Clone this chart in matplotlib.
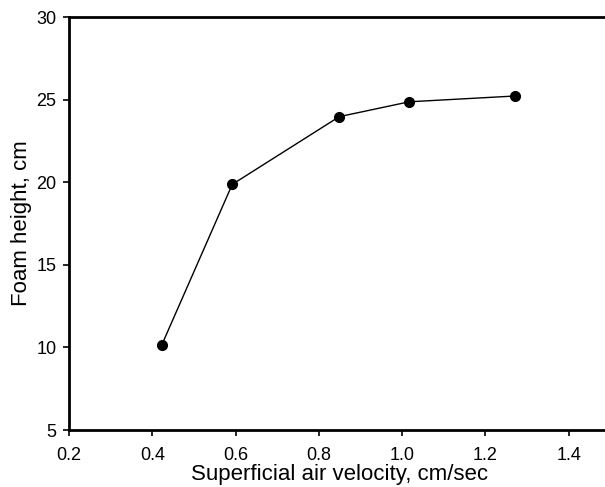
import matplotlib
matplotlib.use("Agg")
import matplotlib.pyplot as plt

# Foam height versus superficial air velocity
air_velocity = [0.423, 0.592, 0.849, 1.017, 1.271]   # cm/sec
foam_height = [10.16, 19.87, 23.97, 24.87, 25.22]    # cm

x_ticks = [0.2, 0.4, 0.6, 0.8, 1.0, 1.2, 1.4]
y_ticks = [5, 10, 15, 20, 25, 30]

plt.rcParams['font.family'] = ['Liberation Sans', 'DejaVu Sans']

fig = plt.figure(figsize=(6.05, 4.87), dpi=100)
ax = fig.add_axes([0.114, 0.117, 0.895, 0.848])

ax.plot(air_velocity, foam_height, color='black', linewidth=1.0,
        marker='o', markersize=7, markerfacecolor='black',
        markeredgecolor='black')

ax.set_xlim(0.2, 1.5)
ax.set_ylim(5, 30)
ax.set_xticks(x_ticks)
ax.set_xticklabels([f"{v:.1f}" for v in x_ticks])
ax.set_yticks(y_ticks)

for side in ['left', 'bottom', 'top']:
    ax.spines[side].set_linewidth(2.0)
ax.spines['right'].set_visible(False)

ax.tick_params(axis='both', direction='out', length=4, width=1.2,
               labelsize=13, colors='black')
ax.tick_params(axis='x', pad=8)
ax.tick_params(axis='y', pad=5)

ax.set_xlabel('Superficial air velocity, cm/sec', fontsize=16, labelpad=0)
ax.set_ylabel('Foam height, cm', fontsize=16, labelpad=3)

fig.savefig('out.png', dpi=100)
